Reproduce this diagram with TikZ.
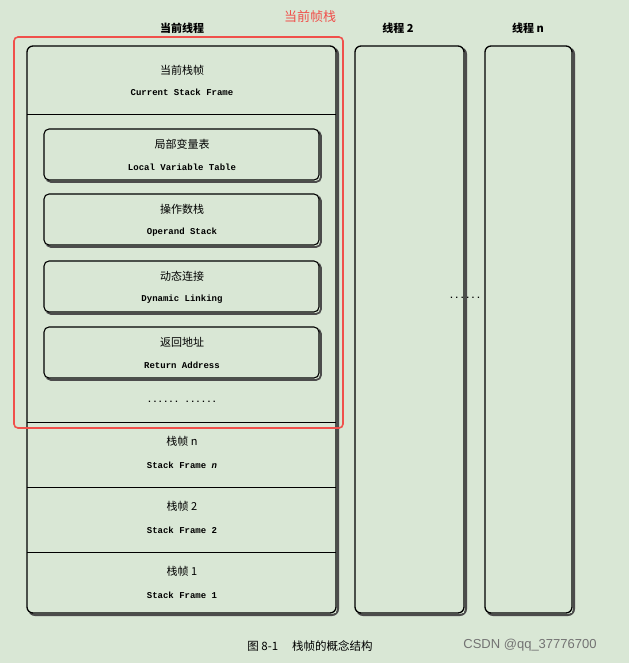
\documentclass[tikz,border=0pt]{standalone}
\usepackage{fontspec}
\setmainfont{Liberation Serif}
\setmonofont{Liberation Mono}
\newfontfamily\cjk{Noto Sans CJK SC}
\usetikzlibrary{positioning}
\definecolor{bgpaper}{HTML}{D9E7D5}
\definecolor{framered}{HTML}{F0504B}
\tikzset{
  colbox/.style={draw, line width=1.3pt, rounded corners=6pt},
  slotbox/.style={draw, line width=1.1pt, rounded corners=5pt},
  zh/.style={font=\cjk\fontsize{11}{12}\selectfont},
  en/.style={font=\ttfamily\bfseries\fontsize{9}{10}\selectfont}
}
\begin{document}
\begin{tikzpicture}[x=1pt,y=-1pt]
\fill[bgpaper] (0,0) rectangle (629,663);
\useasboundingbox (0,0) rectangle (629,663);
% columns with shadow
\foreach \xa/\xb in {27/336,355/464,485/572}{
\draw[line width=2pt, rounded corners=6pt, black!70] (\xa+2,48) rectangle (\xb+2,615);
\fill[bgpaper] (\xa,46) rectangle (\xb,613);
\draw[colbox] (\xa,46) rectangle (\xb,613);
};
\foreach \y in {115,422,487,552}{
\draw[line width=1pt] (27,\y) -- (336,\y);
};
% headers
\node[font=\cjk\bfseries\fontsize{11}{12}\selectfont] (thcur) at (182,28) {当前线程};
\node[font=\cjk\bfseries\fontsize{11}{12}\selectfont] (thtwo) at (398,28) {线程 2};
\node[font=\cjk\bfseries\fontsize{11}{12}\selectfont] (thn) at (528,28) {线程 \textit{n}};
\node[zh] (curzh) at (182,70) {当前栈帧};
\node[en] (curen) at (182,92) {Current Stack Frame};
% slots
\foreach \top/\zh/\en in {129/局部变量表/Local Variable Table,194/操作数栈/Operand Stack,261/动态连接/Dynamic Linking,327/返回地址/Return Address}{
\draw[line width=1.8pt, rounded corners=5pt, black!70] (46,\top+2) rectangle (321,\top+53);
\fill[bgpaper] (44,\top) rectangle (319,\top+51);
\draw[slotbox] (44,\top) rectangle (319,\top+51);
\node[zh] at (182,\top+15) {\zh};
\node[en] at (182,\top+38) {\en};
};
\node[en] (dots) at (182,402) {...... ......};
\node[zh] (sfnzh) at (182,441) {栈帧 \textit{n}};
\node[en] (sfnen) at (182,465) {Stack Frame \textit{n}};
\node[zh] (sf2zh) at (182,506) {栈帧 2};
\node[en] (sf2en) at (182,530) {Stack Frame 2};
\node[zh] (sf1zh) at (182,571) {栈帧 1};
\node[en] (sf1en) at (182,595) {Stack Frame 1};
\node[en] (middots) at (465,298) {......};
% red highlight
\draw[framered, line width=1.6pt, rounded corners=4pt] (14,37) rectangle (343,428);
\node[text=framered, font=\cjk\fontsize{13}{14}\selectfont] (redlbl) at (310,17) {当前帧栈};
% caption
\node[font=\cjk\fontsize{11.5}{12}\selectfont] (caption) at (310,646) {图 8-1\quad\ 栈帧的概念结构};
\node[font=\fontspec{Liberation Sans}\fontsize{13}{14}\selectfont, text=black!55] (csdn) at (530,645) {CSDN @qq\_37776700};
\end{tikzpicture}
\end{document}
